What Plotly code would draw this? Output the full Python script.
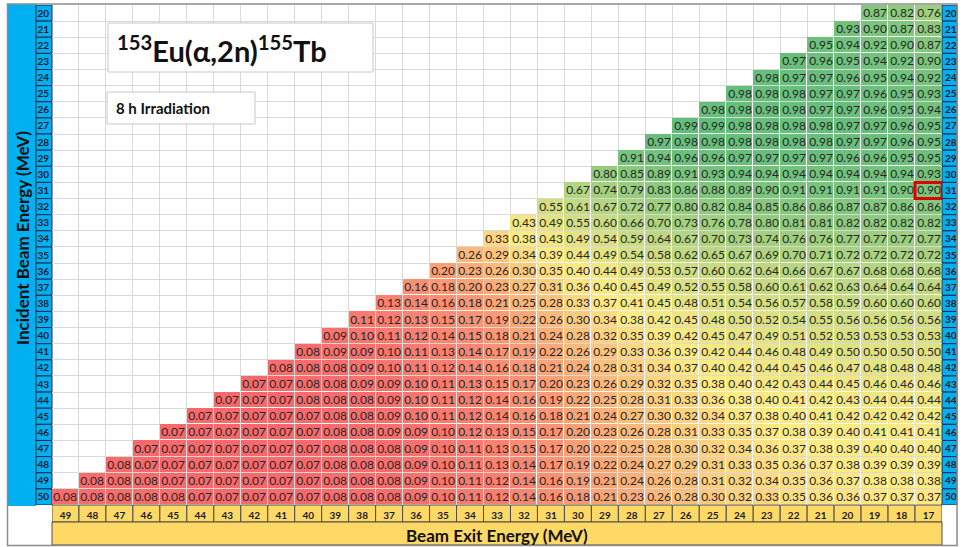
import numpy as np
import plotly.graph_objects as go

# ---------------- data ----------------
incident = list(range(20, 51))          # Incident beam energy (MeV), rows
exit_energy = list(range(49, 16, -1))   # Beam exit energy (MeV), columns
col_labels = [str(c) for c in exit_energy]
row_labels = [str(r) for r in incident]

# each row: values for exit energies from (incident-1) down to 17
fractions = [
    [0.87, 0.82, 0.76],
    [0.93, 0.90, 0.87, 0.83],
    [0.95, 0.94, 0.92, 0.90, 0.87],
    [0.97, 0.96, 0.95, 0.94, 0.92, 0.90],
    [0.98, 0.97, 0.97, 0.96, 0.95, 0.94, 0.92],
    [0.98, 0.98, 0.98, 0.97, 0.97, 0.96, 0.95, 0.93],
    [0.98, 0.98, 0.98, 0.98, 0.97, 0.97, 0.96, 0.95, 0.94],
    [0.99, 0.99, 0.98, 0.98, 0.98, 0.98, 0.97, 0.97, 0.96, 0.95],
    [0.97, 0.98, 0.98, 0.98, 0.98, 0.98, 0.98, 0.97, 0.97, 0.96, 0.95],
    [0.91, 0.94, 0.96, 0.96, 0.97, 0.97, 0.97, 0.97, 0.96, 0.96, 0.95, 0.95],
    [0.80, 0.85, 0.89, 0.91, 0.93, 0.94, 0.94, 0.94, 0.94, 0.94, 0.94, 0.94, 0.93],
    [0.67, 0.74, 0.79, 0.83, 0.86, 0.88, 0.89, 0.90, 0.91, 0.91, 0.91, 0.91, 0.90, 0.90],
    [0.55, 0.61, 0.67, 0.72, 0.77, 0.80, 0.82, 0.84, 0.85, 0.86, 0.86, 0.87, 0.87, 0.86, 0.86],
    [0.43, 0.49, 0.55, 0.60, 0.66, 0.70, 0.73, 0.76, 0.78, 0.80, 0.81, 0.81, 0.82, 0.82, 0.82, 0.82],
    [0.33, 0.38, 0.43, 0.49, 0.54, 0.59, 0.64, 0.67, 0.70, 0.73, 0.74, 0.76, 0.76, 0.77, 0.77, 0.77, 0.77],
    [0.26, 0.29, 0.34, 0.39, 0.44, 0.49, 0.54, 0.58, 0.62, 0.65, 0.67, 0.69, 0.70, 0.71, 0.72, 0.72, 0.72, 0.72],
    [0.20, 0.23, 0.26, 0.30, 0.35, 0.40, 0.44, 0.49, 0.53, 0.57, 0.60, 0.62, 0.64, 0.66, 0.67, 0.67, 0.68, 0.68, 0.68],
    [0.16, 0.18, 0.20, 0.23, 0.27, 0.31, 0.36, 0.40, 0.45, 0.49, 0.52, 0.55, 0.58, 0.60, 0.61, 0.62, 0.63, 0.64, 0.64, 0.64],
    [0.13, 0.14, 0.16, 0.18, 0.21, 0.25, 0.28, 0.33, 0.37, 0.41, 0.45, 0.48, 0.51, 0.54, 0.56, 0.57, 0.58, 0.59, 0.60, 0.60, 0.60],
    [0.11, 0.12, 0.13, 0.15, 0.17, 0.19, 0.22, 0.26, 0.30, 0.34, 0.38, 0.42, 0.45, 0.48, 0.50, 0.52, 0.54, 0.55, 0.56, 0.56, 0.56, 0.56],
    [0.09, 0.10, 0.11, 0.12, 0.14, 0.15, 0.18, 0.21, 0.24, 0.28, 0.32, 0.35, 0.39, 0.42, 0.45, 0.47, 0.49, 0.51, 0.52, 0.53, 0.53, 0.53, 0.53],
    [0.08, 0.09, 0.09, 0.10, 0.11, 0.13, 0.14, 0.17, 0.19, 0.22, 0.26, 0.29, 0.33, 0.36, 0.39, 0.42, 0.44, 0.46, 0.48, 0.49, 0.50, 0.50, 0.50, 0.50],
    [0.08, 0.08, 0.08, 0.09, 0.10, 0.11, 0.12, 0.14, 0.16, 0.18, 0.21, 0.24, 0.28, 0.31, 0.34, 0.37, 0.40, 0.42, 0.44, 0.45, 0.46, 0.47, 0.48, 0.48, 0.48],
    [0.07, 0.07, 0.08, 0.08, 0.09, 0.09, 0.10, 0.11, 0.13, 0.15, 0.17, 0.20, 0.23, 0.26, 0.29, 0.32, 0.35, 0.38, 0.40, 0.42, 0.43, 0.44, 0.45, 0.46, 0.46, 0.46],
    [0.07, 0.07, 0.07, 0.08, 0.08, 0.08, 0.09, 0.10, 0.11, 0.12, 0.14, 0.16, 0.19, 0.22, 0.25, 0.28, 0.31, 0.33, 0.36, 0.38, 0.40, 0.41, 0.42, 0.43, 0.44, 0.44, 0.44],
    [0.07, 0.07, 0.07, 0.07, 0.07, 0.08, 0.08, 0.09, 0.10, 0.11, 0.12, 0.14, 0.16, 0.18, 0.21, 0.24, 0.27, 0.30, 0.32, 0.34, 0.37, 0.38, 0.40, 0.41, 0.42, 0.42, 0.42, 0.42],
    [0.07, 0.07, 0.07, 0.07, 0.07, 0.07, 0.08, 0.08, 0.09, 0.09, 0.10, 0.12, 0.13, 0.15, 0.17, 0.20, 0.23, 0.26, 0.28, 0.31, 0.33, 0.35, 0.37, 0.38, 0.39, 0.40, 0.41, 0.41, 0.41],
    [0.07, 0.07, 0.07, 0.07, 0.07, 0.07, 0.07, 0.08, 0.08, 0.08, 0.09, 0.10, 0.11, 0.13, 0.15, 0.17, 0.20, 0.22, 0.25, 0.28, 0.30, 0.32, 0.34, 0.36, 0.37, 0.38, 0.39, 0.40, 0.40, 0.40],
    [0.08, 0.07, 0.07, 0.07, 0.07, 0.07, 0.07, 0.07, 0.08, 0.08, 0.08, 0.09, 0.10, 0.11, 0.13, 0.14, 0.17, 0.19, 0.22, 0.24, 0.27, 0.29, 0.31, 0.33, 0.35, 0.36, 0.37, 0.38, 0.39, 0.39, 0.39],
    [0.08, 0.08, 0.08, 0.07, 0.07, 0.07, 0.07, 0.07, 0.07, 0.08, 0.08, 0.08, 0.09, 0.10, 0.11, 0.12, 0.14, 0.16, 0.19, 0.21, 0.24, 0.26, 0.28, 0.31, 0.32, 0.34, 0.35, 0.36, 0.37, 0.38, 0.38, 0.38],
    [0.08, 0.08, 0.08, 0.08, 0.08, 0.07, 0.07, 0.07, 0.07, 0.07, 0.08, 0.08, 0.08, 0.09, 0.10, 0.11, 0.12, 0.14, 0.16, 0.18, 0.21, 0.23, 0.26, 0.28, 0.30, 0.32, 0.33, 0.35, 0.36, 0.36, 0.37, 0.37, 0.37],
]

title_text = "<sup>153</sup>Eu(α,2n)<sup>155</sup>Tb"
subtitle_text = "8 h Irradiation"
x_title = "Beam Exit Energy (MeV)"
y_title = "Incident Beam Energy (MeV)"
highlight = (17, 31)   # (exit, incident) cell outlined in red

# ---------------- build table ----------------
ncol = len(exit_energy)
z, txt = [], []
for vals in fractions:
    pad = ncol - len(vals)
    z.append([None] * pad + vals)
    txt.append([""] * pad + [f"{v:.2f}" for v in vals])

allv = np.array([v for r in fractions for v in r])
vmin, vmax, vmed = allv.min(), allv.max(), float(np.median(allv))
mid = (vmed - vmin) / (vmax - vmin)

FONT = "Lato"
BLUE = "#00B0F0"
GOLD = "#FFD966"

# pixel layout helpers (plot area 52..942 x 5..505)
L, R, T, B = 52, 20, 5, 42
W, H = 962, 547
PW, PH = W - L - R, H - T - B
def px(x):
    return (x - L) / PW
def py(y):
    return 1 - (y - T) / PH

fig = go.Figure()
fig.add_trace(go.Heatmap(
    x=exit_energy, y=incident, z=z, text=txt, texttemplate="%{text}",
    textfont=dict(family=FONT, size=12, color="#262626"),
    colorscale=[[0, "#F8696B"], [mid, "#FFEB84"], [1, "#63BE7B"]],
    zmin=vmin, zmax=vmax, showscale=False, xgap=1, ygap=1,
    hoverongaps=False,
))
# invisible trace for right-hand row labels axis
fig.add_trace(go.Scatter(
    x=[exit_energy[-1]] * len(incident), y=incident, yaxis="y2",
    mode="markers", marker=dict(opacity=0), hoverinfo="skip", showlegend=False,
))

shapes = []
# left blue bar
shapes.append(dict(type="rect", xref="paper", yref="paper", layer="below",
                   x0=px(8), x1=px(36), y0=py(4), y1=py(506),
                   fillcolor=BLUE, line=dict(width=0)))
# row label boxes both sides
for r in incident:
    for x0, x1 in ((36, 52), (942, 957)):
        shapes.append(dict(type="rect", xref="paper", yref="y", layer="below",
                           x0=px(x0), x1=px(x1), y0=r - 0.5, y1=r + 0.5,
                           fillcolor=BLUE, line=dict(color="#1F2A44", width=1)))
# column label boxes
for c in exit_energy:
    shapes.append(dict(type="rect", xref="x", yref="paper", layer="below",
                       x0=c + 0.5, x1=c - 0.5, y0=py(505), y1=py(522),
                       fillcolor=GOLD, line=dict(color="#4D4D4D", width=1)))
# bottom gold bar
shapes.append(dict(type="rect", xref="paper", yref="paper", layer="below",
                   x0=px(52), x1=px(942), y0=py(522), y1=py(545),
                   fillcolor=GOLD, line=dict(color="#4D4D4D", width=1)))
# title boxes
shapes.append(dict(type="rect", xref="paper", yref="paper", layer="above",
                   x0=px(108), x1=px(373), y0=py(23), y1=py(72),
                   fillcolor="white", line=dict(color="#C8C8C8", width=1)))
shapes.append(dict(type="rect", xref="paper", yref="paper", layer="above",
                   x0=px(107), x1=px(255), y0=py(92), y1=py(124),
                   fillcolor="white", line=dict(color="#C8C8C8", width=1)))
# highlighted cell
hx, hy = highlight
shapes.append(dict(type="rect", xref="x", yref="y", layer="above",
                   x0=hx + 0.5, x1=hx - 0.5, y0=hy - 0.5, y1=hy + 0.5,
                   line=dict(color="#E00000", width=3)))
# outer frame
shapes.append(dict(type="rect", xref="paper", yref="paper", layer="above",
                   x0=px(7.5), x1=px(957), y0=py(4), y1=py(545.5),
                   line=dict(color="#8C8C8C", width=1.5)))

annotations = [
    dict(text=title_text, xref="paper", yref="paper", x=px(115), y=py(49),
         xanchor="left", yanchor="middle", showarrow=False,
         font=dict(family=FONT, size=29, color="#111111", weight="bold")),
    dict(text=subtitle_text, xref="paper", yref="paper", x=px(114), y=py(108),
         xanchor="left", yanchor="middle", showarrow=False,
         font=dict(family=FONT, size=15, color="#111111", weight="bold")),
    dict(text=x_title, xref="paper", yref="paper", x=px(497), y=py(535),
         xanchor="center", yanchor="middle", showarrow=False,
         font=dict(family=FONT, size=17, color="#111111", weight="bold")),
    dict(text=y_title, xref="paper", yref="paper", x=px(23), y=py(238),
         xanchor="center", yanchor="middle", showarrow=False, textangle=-90,
         font=dict(family=FONT, size=17, color="#111111", weight="bold")),
]

tickfont = dict(family=FONT, size=10, color="#1A1A2E", weight="bold")
minor = dict(tick0=0.5, dtick=1, showgrid=True, gridcolor="#D9D9D9",
             gridwidth=1, ticks="")

fig.update_layout(
    width=W, height=H, margin=dict(l=L, r=R, t=T, b=B),
    paper_bgcolor="white", plot_bgcolor="white", template="none",
    showlegend=False, shapes=shapes, annotations=annotations,
    xaxis=dict(range=[49.5, 16.5], tickmode="array", tickvals=exit_energy,
               ticktext=col_labels, tickfont=tickfont, ticks="", showgrid=False,
               zeroline=False, showline=False, automargin=False, minor=minor,
               ticklabelstandoff=3),
    yaxis=dict(range=[50.5, 19.5], tickmode="array", tickvals=incident,
               ticktext=row_labels, tickfont=tickfont, ticks="", showgrid=False,
               zeroline=False, showline=False, automargin=False, minor=minor,
               ticklabelstandoff=2),
    yaxis2=dict(range=[50.5, 19.5], overlaying="y", side="right", anchor="x",
                tickmode="array", tickvals=incident, ticktext=row_labels,
                tickfont=tickfont, ticks="", showgrid=False, zeroline=False,
                showline=False, automargin=False, ticklabelstandoff=2),
)

fig.write_html("out.html")
